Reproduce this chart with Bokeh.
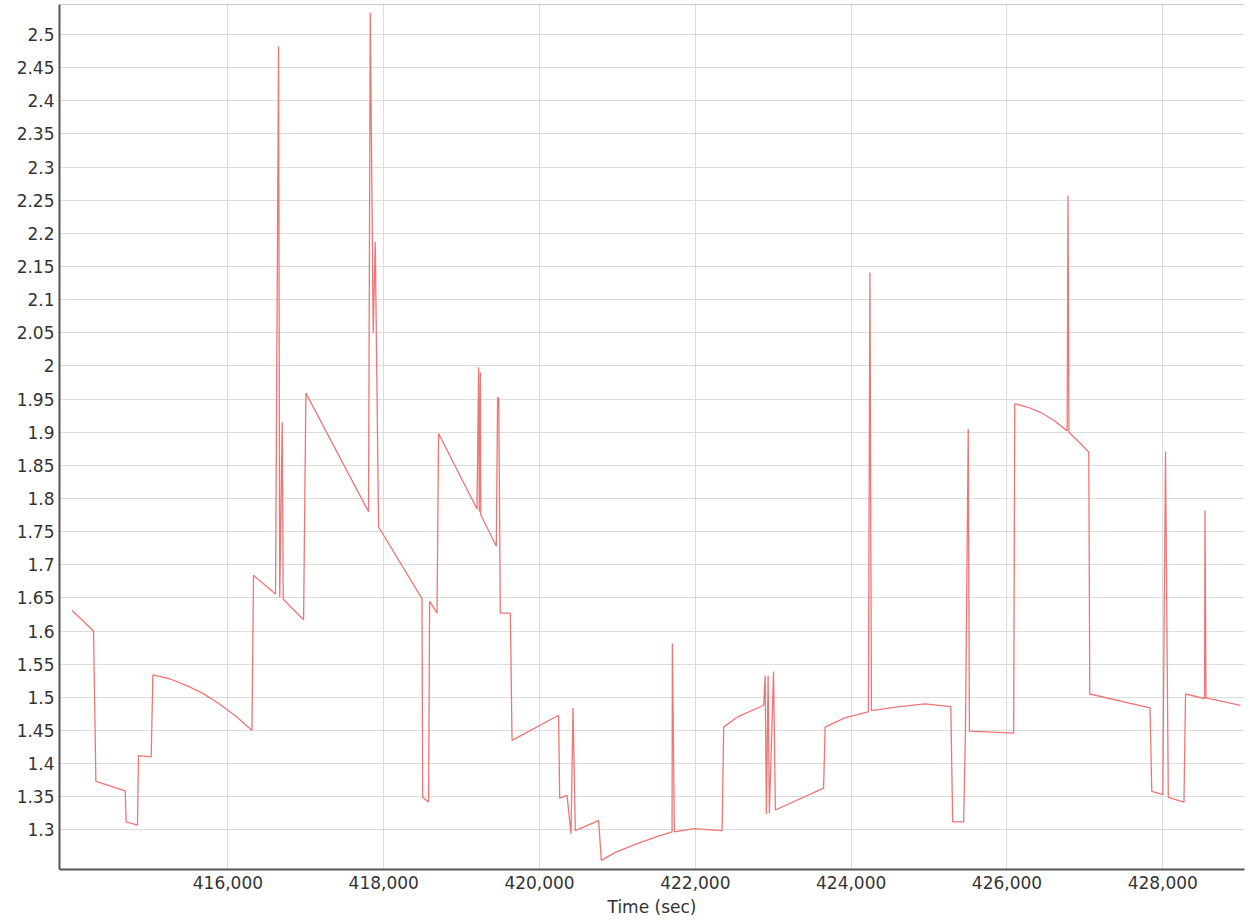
from bokeh.plotting import figure
from bokeh.models import (ColumnDataSource, FixedTicker, NumeralTickFormatter,
                          CustomJSTickFormatter, Range1d, Span)
from bokeh.embed import file_html
from bokeh.resources import INLINE

# ---- data ----
time_sec = [
    414000, 414275, 414305, 414681, 414694, 414839, 414852, 415015, 415037,
    415250, 415465, 415679, 415892, 416107, 416308, 416329, 416611, 416650,
    416665, 416697, 416710, 416971, 417001, 417805, 417827, 417865, 417891,
    417934, 418491, 418500, 418576, 418589, 418684, 418704, 419197, 419218,
    419227, 419240, 419246, 419445, 419462, 419477, 419496, 419625, 419647,
    420245, 420258, 420353, 420404, 420430, 420459, 420758, 420793, 420973,
    421230, 421487, 421701, 421705, 421731, 421979, 422343, 422364, 422536,
    422877, 422896, 422912, 422934, 422950, 423004, 423027, 423646, 423666,
    423918, 424221, 424241, 424260, 424622, 424951, 425279, 425303, 425444,
    425467, 425503, 425518, 426086, 426100, 426259, 426430, 426601, 426773,
    426783, 426796, 426943, 427050, 427063, 427836, 427859, 428000, 428035,
    428071, 428272, 428292, 428536, 428542, 428555, 428998,
]
value = [
    1.631, 1.600, 1.373, 1.359, 1.312, 1.307, 1.412, 1.410, 1.534,
    1.528, 1.518, 1.506, 1.490, 1.471, 1.450, 1.684, 1.656, 2.482,
    1.651, 1.915, 1.648, 1.617, 1.959, 1.780, 2.533, 2.050, 2.187,
    1.757, 1.649, 1.349, 1.342, 1.645, 1.627, 1.898, 1.784, 1.998,
    1.780, 1.990, 1.775, 1.728, 1.953, 1.950, 1.627, 1.627, 1.435,
    1.473, 1.348, 1.352, 1.294, 1.484, 1.299, 1.314, 1.254, 1.266,
    1.278, 1.289, 1.297, 1.581, 1.297, 1.302, 1.299, 1.455, 1.470,
    1.488, 1.533, 1.324, 1.533, 1.325, 1.539, 1.330, 1.363, 1.455,
    1.469, 1.478, 2.141, 1.480, 1.486, 1.490, 1.486, 1.312, 1.312,
    1.449, 1.905, 1.449, 1.446, 1.943, 1.938, 1.930, 1.918, 1.902,
    2.257, 1.900, 1.883, 1.870, 1.505, 1.484, 1.358, 1.353, 1.871,
    1.349, 1.342, 1.505, 1.498, 1.782, 1.499, 1.488,
]
x_ticks = [416000, 418000, 420000, 422000, 424000, 426000, 428000]
y_ticks = [1.3, 1.35, 1.4, 1.45, 1.5, 1.55, 1.6, 1.65, 1.7, 1.75, 1.8, 1.85,
           1.9, 1.95, 2.0, 2.05, 2.1, 2.15, 2.2, 2.25, 2.3, 2.35, 2.4, 2.45, 2.5]
x_label = "Time (sec)"

source = ColumnDataSource(data=dict(t=time_sec, v=value))

FONT = "DejaVu Sans"
TXT = "#333333"
Y_TOP = 2.5453

p = figure(width=1250, height=922, output_backend="svg", toolbar_location=None,
           x_range=Range1d(413838, 429049), y_range=Range1d(1.2402, Y_TOP),
           min_border_left=59, min_border_right=6, min_border_top=4,
           min_border_bottom=53)

p.line(x="t", y="v", source=source, line_color="#f07575", line_width=1.3)

p.background_fill_color = "white"
p.border_fill_color = "white"
p.outline_line_color = None
p.add_layout(Span(location=Y_TOP, dimension="width", line_color="#9a9a9a",
                  line_width=1))

# axes
p.xaxis.ticker = FixedTicker(ticks=x_ticks)
p.yaxis.ticker = FixedTicker(ticks=y_ticks)
p.xaxis.formatter = NumeralTickFormatter(format="0,0")
p.yaxis.formatter = CustomJSTickFormatter(
    code="return (Math.round(tick*100)/100).toString();")
p.xaxis.axis_label = x_label

for ax in (p.xaxis, p.yaxis):
    ax.major_tick_out = 0
    ax.major_tick_in = 0
    ax.minor_tick_out = 0
    ax.minor_tick_in = 0
    ax.axis_line_color = "#555555"
    ax.axis_line_width = 2
    ax.major_label_text_font = FONT
    ax.major_label_text_font_size = "17px"
    ax.major_label_text_color = TXT
    ax.axis_label_text_font = FONT
    ax.axis_label_text_font_size = "17px"
    ax.axis_label_text_font_style = "normal"
    ax.axis_label_text_color = TXT

p.xaxis.major_label_standoff = 6
p.xaxis.axis_label_standoff = 5
p.yaxis.major_label_standoff = 5

p.xgrid.grid_line_color = "#dcdcdc"
p.ygrid.grid_line_color = "#dcdcdc"
p.xgrid.grid_line_width = 1
p.ygrid.grid_line_width = 1

open("out.html", "w").write(file_html(p, INLINE))
